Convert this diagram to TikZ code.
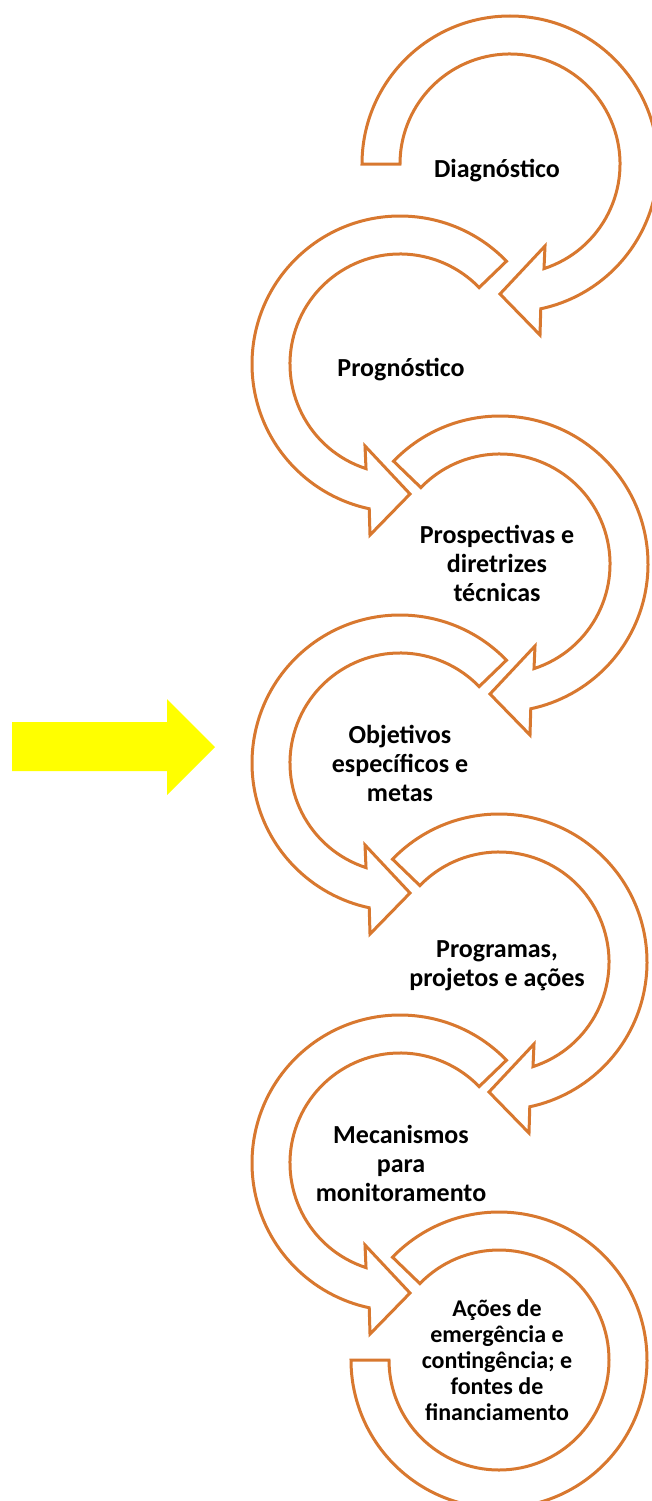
\documentclass[tikz,border=0pt]{standalone}
\usepackage{fontspec}
\setmainfont{Carlito}
\definecolor{arrorange}{HTML}{D8782F}
\definecolor{pointeryellow}{HTML}{FFFF00}
\begin{document}
\begin{tikzpicture}[x=1pt,y=1pt,
  circarrow/.style={draw=arrorange, line width=3pt, fill=white, line join=miter, miter limit=10},
  steplabel/.style={font=\bfseries\fontsize{26}{29}\selectfont, align=center, inner sep=0pt, anchor=north},
  smalllabel/.style={font=\bfseries\fontsize{24}{26}\selectfont, align=center, inner sep=0pt, anchor=north},
  headpath/.style={}
]
\useasboundingbox (0,0) rectangle (652,-1501);
\clip (0,0) rectangle (652,-1501);

% yellow pointer arrow
\fill[pointeryellow] (12,-722) -- (167,-722) -- (167,-699) -- (215,-747) -- (167,-795) -- (167,-771) -- (12,-771) -- cycle;

% arrow 1 (right column, flat start)
\begin{scope}[shift={(510,-164)}]
\draw[circarrow] (180:148) arc[start angle=180,end angle=-78,radius=148] -- (30,-171) -- (-10,-130) -- (35,-82) -- (-72:110) arc[start angle=-72,end angle=180,radius=110] -- cycle;
\end{scope}
% arrow 2 (left column)
\begin{scope}[shift={(400,-364)},xscale=-1]
\draw[circarrow] (136:148) arc[start angle=136,end angle=-78,radius=148] -- (30,-171) -- (-10,-130) -- (35,-82) -- (-72:110) arc[start angle=-72,end angle=136,radius=110] -- cycle;
\end{scope}
% arrow 3 (right column)
\begin{scope}[shift={(500,-564)}]
\draw[circarrow] (136:148) arc[start angle=136,end angle=-78,radius=148] -- (30,-171) -- (-10,-130) -- (35,-82) -- (-72:110) arc[start angle=-72,end angle=136,radius=110] -- cycle;
\end{scope}
% arrow 4 (left column)
\begin{scope}[shift={(400,-763)},xscale=-1]
\draw[circarrow] (136:148) arc[start angle=136,end angle=-78,radius=148] -- (30,-171) -- (-10,-130) -- (35,-82) -- (-72:110) arc[start angle=-72,end angle=136,radius=110] -- cycle;
\end{scope}
% arrow 5 (right column)
\begin{scope}[shift={(499,-962)}]
\draw[circarrow] (136:148) arc[start angle=136,end angle=-78,radius=148] -- (30,-171) -- (-10,-130) -- (35,-82) -- (-72:110) arc[start angle=-72,end angle=136,radius=110] -- cycle;
\end{scope}
% arrow 6 (left column)
\begin{scope}[shift={(400,-1163)},xscale=-1]
\draw[circarrow] (136:148) arc[start angle=136,end angle=-78,radius=148] -- (30,-171) -- (-10,-130) -- (35,-82) -- (-72:110) arc[start angle=-72,end angle=136,radius=110] -- cycle;
\end{scope}
% arrow 7 (right column, flat end)
\begin{scope}[shift={(499,-1360)}]
\draw[circarrow] (136:148) arc[start angle=136,end angle=-180,radius=148] -- (180:110) arc[start angle=-180,end angle=136,radius=110] -- cycle;
\end{scope}

% labels
\node[steplabel] (l1) at (497,-153) {\rule{0pt}{24pt}Diagnóstico};
\node[steplabel] (l2) at (401,-352) {\rule{0pt}{24pt}Prognóstico};
\node[steplabel] (l3) at (497,-519) {\rule{0pt}{24pt}Prospectivas e\\diretrizes\\técnicas};
\node[steplabel] (l4) at (400,-719) {\rule{0pt}{24pt}Objetivos\\específicos e\\metas};
\node[steplabel] (l5) at (497,-933) {\rule{0pt}{24pt}Programas,\\projetos e ações};
\node[steplabel] (l6) at (401,-1119) {\rule{0pt}{24pt}Mecanismos\\para\\monitoramento};
\node[smalllabel] (l7) at (497,-1294) {\rule{0pt}{22pt}Ações de\\emergência e\\contingência; e\\fontes de\\financiamento};
\end{tikzpicture}
\end{document}
